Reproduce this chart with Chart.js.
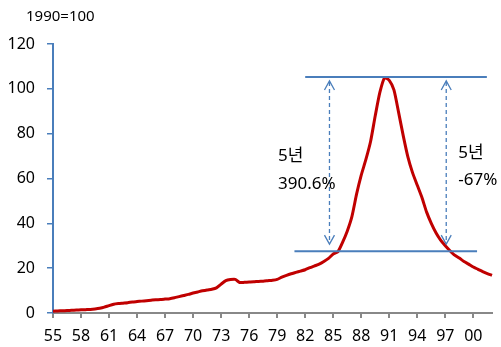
<!DOCTYPE html>
<html>
<head>
<meta charset="utf-8">
<script src="https://cdn.jsdelivr.net/npm/chart.js@4"></script>
<style>
  html, body { margin: 0; padding: 0; background: #fff; }
  canvas { display: block; }
</style>
</head>
<body>
<canvas id="chart" width="501" height="347"></canvas>
<script>
// half-year index, 1990=100 (Mar 1955 .. Mar 2002)
const firstYear = 1955;
const lastYear = 2002;
const tickLabels = ['55', '58', '61', '64', '67', '70', '73', '76', '79', '82', '85', '88', '91', '94', '97', '00'];
const values = [
  0.8, 0.9, 1.0, 1.1, 1.2, 1.3, 1.4, 1.5, 1.6, 1.8,      // 55-59
  2.1, 2.6, 3.3, 3.9, 4.2, 4.4, 4.6, 4.9, 5.1, 5.3,      // 60-64
  5.5, 5.7, 5.9, 6.0, 6.2, 6.4, 6.8, 7.3, 7.8, 8.3,      // 65-69
  8.9, 9.4, 9.9, 10.3, 10.6, 11.2, 12.9, 14.4, 14.9, 15.0, // 70-74
  13.6, 13.7, 13.8, 13.9, 14.1, 14.2, 14.4, 14.6, 15.0, 16.0, // 75-79
  16.8, 17.5, 18.1, 18.7, 19.3, 20.2, 21.0, 21.8, 23.0, 24.4, // 80-84
  26.3, 27.3, 31.5, 36.5, 43.0, 53.0, 61.5, 68.5, 76.5, 88.0, // 85-89
  98.5, 104.9, 103.8, 99.5, 89.5, 79.0, 69.5, 62.5, 57.0, 51.5, // 90-94
  45.0, 40.0, 35.8, 32.5, 30.0, 27.8, 25.8, 24.5, 23.0, 21.8, // 95-99
  20.5, 19.5, 18.5, 17.6, 16.8                            // 00-02
];

// category labels: one per half year
const periods = [];
for (let y = firstYear; y <= lastYear; y++) {
  periods.push(y + '.03');
  if (y < lastYear) periods.push(y + '.09');
}

const FONT = "'Noto Sans', 'Noto Sans CJK KR', sans-serif";
const BLUE = '#4a7ebb';

// annotation: two level lines, two dashed double arrows, labels
const notes = {
  top: { v: 105.3, from: 54.0, to: 92.9 },
  bottom: { v: 27.6, from: 51.7, to: 90.8 },
  arrows: [59.2, 84.2],
  texts: [
    { x: 48.2, y: 69.8, t: '5년' },
    { x: 48.2, y: 57.6, t: '390.6%' },
    { x: 86.8, y: 71.5, t: '5년' },
    { x: 86.8, y: 59.4, t: '-67%' }
  ]
};

const notePlugin = {
  id: 'notes',
  afterDatasetsDraw(chart) {
    const ctx = chart.ctx;
    const xs = chart.scales.x, ys = chart.scales.y;
    ctx.save();
    // level lines
    ctx.strokeStyle = BLUE;
    ctx.lineWidth = 2;
    [notes.top, notes.bottom].forEach(l => {
      const y = ys.getPixelForValue(l.v);
      ctx.beginPath();
      ctx.moveTo(xs.getPixelForValue(l.from), y);
      ctx.lineTo(xs.getPixelForValue(l.to), y);
      ctx.stroke();
    });
    // dashed arrows
    const yTop = ys.getPixelForValue(notes.top.v) + 4;
    const yBot = ys.getPixelForValue(notes.bottom.v) - 7;
    notes.arrows.forEach(a => {
      const x = xs.getPixelForValue(a);
      ctx.lineWidth = 1.3;
      ctx.setLineDash([4, 3]);
      ctx.beginPath();
      ctx.moveTo(x, yTop + 1);
      ctx.lineTo(x, yBot - 1);
      ctx.stroke();
      ctx.setLineDash([]);
      ctx.beginPath();
      ctx.moveTo(x - 5, yTop + 9);
      ctx.lineTo(x, yTop);
      ctx.lineTo(x + 5, yTop + 9);
      ctx.moveTo(x - 5, yBot - 9);
      ctx.lineTo(x, yBot);
      ctx.lineTo(x + 5, yBot - 9);
      ctx.stroke();
    });
    // texts
    ctx.fillStyle = '#000';
    ctx.font = '17px ' + FONT;
    ctx.textAlign = 'left';
    ctx.textBaseline = 'middle';
    notes.texts.forEach(t => {
      ctx.fillText(t.t, xs.getPixelForValue(t.x), ys.getPixelForValue(t.y));
    });
    ctx.font = '15px ' + FONT;
    ctx.fillText('1990=100', 26, 17);
    ctx.restore();
  }
};

new Chart(document.getElementById('chart').getContext('2d'), {
  type: 'line',
  data: {
    labels: periods,
    datasets: [{
      data: values,
      borderColor: '#c00000',
      borderWidth: 3,
      pointRadius: 0,
      tension: 0.2,
      fill: false
    }]
  },
  options: {
    responsive: false,
    animation: false,
    devicePixelRatio: 1,
    layout: { padding: { top: 44, right: 9, left: 0, bottom: 0 } },
    plugins: { legend: { display: false }, tooltip: { enabled: false } },
    scales: {
      x: {
        offset: false,
        afterFit: s => { s.height = 34; },
        grid: { drawOnChartArea: false, drawTicks: true, tickLength: 5, color: '#888', lineWidth: 2 },
        border: { display: true, color: '#888', width: 2 },
        ticks: {
          autoSkip: false,
          maxRotation: 0,
          padding: 9,
          color: '#000',
          font: { family: FONT, size: 16 },
          callback: (v, i) => (i % 6 === 0 ? tickLabels[i / 6] : null)
        }
      },
      y: {
        min: 0,
        max: 120,
        afterFit: s => { s.width = 53; },
        grid: { drawOnChartArea: false, drawTicks: true, tickLength: 6, color: BLUE, lineWidth: 1.5 },
        border: { display: true, color: BLUE, width: 2 },
        ticks: {
          stepSize: 20,
          padding: 12,
          color: '#000',
          font: { family: FONT, size: 16 }
        }
      }
    }
  },
  plugins: [notePlugin]
});
</script>
</body>
</html>
